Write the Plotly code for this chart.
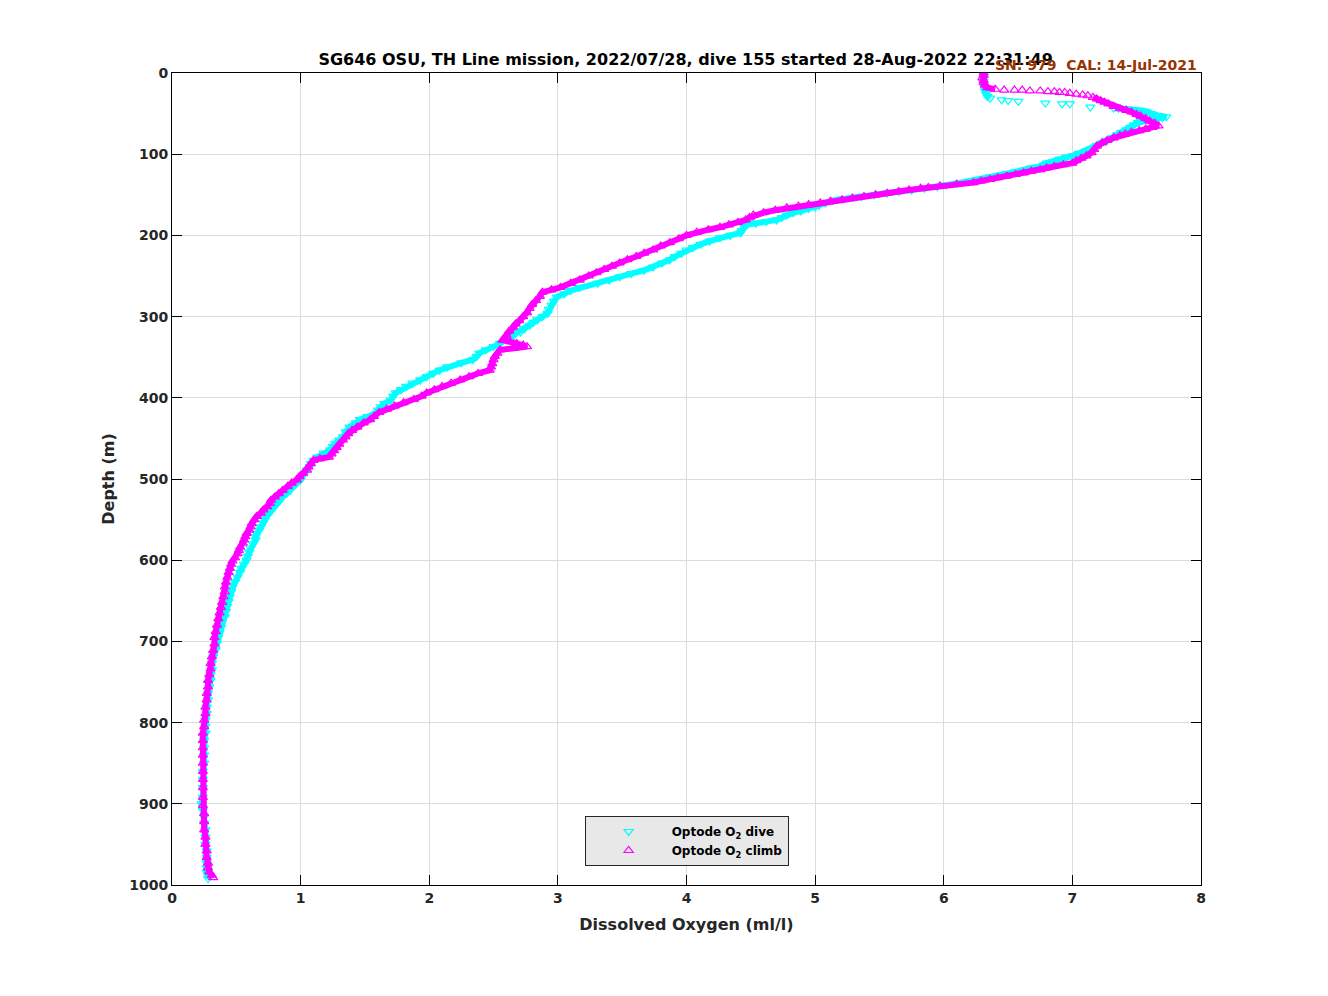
import plotly.graph_objects as go

# Dive (down-cast) optode O2, depth (m) and value (ml/l)
dive_depth = [2, 6, 10, 14, 18, 22, 26, 29, 31, 33, 34, 35, 37, 38, 38, 42, 43, 43.5, 44, 45, 46, 47, 48, 50, 52, 53, 54, 55, 56, 57, 59, 61, 64, 67, 70, 73, 76, 80, 83, 86, 89, 93, 96, 99, 102, 104, 106, 109, 111, 113, 115, 117, 120, 122, 124, 126, 128, 130, 133, 136, 138, 140, 142, 144, 146, 148, 150, 152, 153, 155, 157, 160, 163, 165, 167, 170, 172, 175, 178, 181, 183, 185, 187, 190, 194, 197, 200, 203, 207, 211, 215, 218, 222, 226, 230, 234, 239, 243, 247, 251, 255, 259, 264, 268, 272, 276, 281, 286, 291, 296, 300, 304, 307, 311, 315, 319, 323, 328, 333, 337, 341, 345, 349, 353, 357, 362, 366, 370, 374, 378, 382, 386, 390, 394, 398, 403, 407, 411, 415, 419, 423, 427, 431, 436, 442, 448, 452, 456, 460, 464, 468, 473, 477, 481, 485, 489, 493, 497, 501, 505, 509, 514, 518, 522, 526, 530, 534, 538, 542, 546, 550, 554, 559, 563, 567, 571, 575, 580, 585, 590, 595, 600, 605, 610, 615, 621, 627, 633, 639, 645, 651, 657, 663, 670, 676, 683, 689, 695, 702, 710, 719, 727, 735, 741, 748, 756, 764, 772, 781, 789, 797, 805, 813, 822, 831, 840, 850, 860, 870, 880, 892, 900, 908, 916, 924, 932, 941, 950, 958, 966, 973, 979, 984, 988, 992]
dive_o2 = [6.31, 6.31, 6.31, 6.31, 6.32, 6.32, 6.33, 6.34, 6.36, 6.45, 6.50, 6.58, 6.79, 6.92, 6.98, 7.14, 7.32, 7.36, 7.43, 7.48, 7.53, 7.56, 7.58, 7.61, 7.63, 7.68, 7.73, 7.70, 7.65, 7.60, 7.53, 7.51, 7.48, 7.45, 7.42, 7.38, 7.35, 7.31, 7.27, 7.23, 7.19, 7.15, 7.11, 7.05, 7.00, 6.95, 6.90, 6.85, 6.80, 6.78, 6.75, 6.68, 6.62, 6.55, 6.49, 6.43, 6.36, 6.30, 6.23, 6.10, 6.02, 5.95, 5.85, 5.75, 5.65, 5.56, 5.46, 5.36, 5.29, 5.21, 5.14, 5.08, 5.03, 5.00, 4.95, 4.89, 4.83, 4.78, 4.74, 4.70, 4.62, 4.54, 4.47, 4.45, 4.43, 4.42, 4.34, 4.26, 4.18, 4.11, 4.05, 4.00, 3.96, 3.91, 3.87, 3.81, 3.74, 3.67, 3.57, 3.48, 3.40, 3.31, 3.17, 3.10, 3.05, 2.99, 2.97, 2.95, 2.93, 2.92, 2.88, 2.84, 2.81, 2.78, 2.74, 2.71, 2.66, 2.61, 2.55, 2.50, 2.44, 2.39, 2.37, 2.34, 2.25, 2.14, 2.08, 2.03, 1.98, 1.93, 1.87, 1.82, 1.78, 1.74, 1.72, 1.70, 1.65, 1.62, 1.60, 1.59, 1.52, 1.46, 1.43, 1.38, 1.35, 1.33, 1.30, 1.27, 1.25, 1.23, 1.18, 1.13, 1.10, 1.08, 1.07, 1.05, 1.03, 1.01, 1.00, 0.97, 0.94, 0.92, 0.89, 0.86, 0.84, 0.82, 0.79, 0.77, 0.75, 0.73, 0.72, 0.71, 0.69, 0.68, 0.66, 0.65, 0.65, 0.63, 0.61, 0.60, 0.59, 0.58, 0.56, 0.54, 0.53, 0.51, 0.49, 0.47, 0.46, 0.45, 0.44, 0.43, 0.42, 0.41, 0.39, 0.38, 0.37, 0.36, 0.35, 0.34, 0.32, 0.31, 0.31, 0.30, 0.30, 0.29, 0.28, 0.28, 0.27, 0.27, 0.26, 0.26, 0.26, 0.25, 0.25, 0.25, 0.25, 0.24, 0.24, 0.24, 0.24, 0.23, 0.24, 0.25, 0.25, 0.26, 0.26, 0.26, 0.27, 0.27, 0.27, 0.27, 0.27, 0.28, 0.28]

# Climb (up-cast) optode O2
climb_depth = [0, 3, 6, 9, 12, 15, 18, 20, 21, 21, 21, 22, 22, 23, 23, 24, 24, 25, 26, 27, 28, 30, 32, 34, 36, 38, 41, 44, 46, 48, 51, 53, 56, 59, 62, 65, 67, 69, 71, 73, 75, 77, 80, 83, 86, 90, 94, 98, 102, 105, 108, 111, 113, 115, 117, 119, 121, 123, 125, 127, 129, 131, 133, 135, 137, 139, 141, 142, 144, 146, 148, 150, 152, 154, 156, 158, 160, 162, 164, 166, 169, 172, 175, 178, 181, 184, 187, 190, 193, 196, 200, 204, 209, 213, 218, 222, 226, 230, 234, 238, 242, 246, 250, 255, 259, 264, 267, 270, 275, 280, 285, 290, 295, 300, 305, 309, 313, 318, 323, 327, 329, 331, 333, 335, 337, 339, 341, 345, 349, 353, 358, 362, 366, 370, 374, 378, 382, 386, 390, 394, 398, 402, 406, 410, 414, 418, 423, 427, 431, 436, 440, 444, 448, 452, 457, 461, 465, 469, 473, 475, 477, 481, 485, 489, 493, 497, 501, 505, 509, 514, 518, 522, 526, 530, 534, 538, 542, 546, 550, 555, 559, 563, 567, 571, 575, 579, 584, 588, 592, 597, 601, 605, 610, 615, 621, 627, 633, 639, 645, 652, 658, 665, 672, 680, 688, 695, 703, 711, 719, 727, 734, 741, 748, 756, 764, 772, 781, 789, 797, 805, 813, 822, 831, 840, 850, 860, 870, 880, 892, 902, 912, 922, 932, 941, 950, 958, 966, 973, 979, 984, 988, 991]
climb_o2 = [6.31, 6.31, 6.30, 6.31, 6.31, 6.32, 6.34, 6.40, 6.47, 6.55, 6.61, 6.67, 6.75, 6.81, 6.86, 6.90, 6.94, 6.98, 7.03, 7.08, 7.12, 7.16, 7.19, 7.22, 7.25, 7.28, 7.32, 7.37, 7.42, 7.46, 7.50, 7.53, 7.57, 7.60, 7.64, 7.67, 7.62, 7.57, 7.52, 7.46, 7.41, 7.37, 7.32, 7.27, 7.23, 7.19, 7.17, 7.15, 7.11, 7.07, 7.03, 7.00, 6.93, 6.86, 6.80, 6.75, 6.68, 6.62, 6.56, 6.49, 6.42, 6.36, 6.29, 6.23, 6.10, 5.97, 5.88, 5.82, 5.73, 5.65, 5.56, 5.47, 5.38, 5.29, 5.21, 5.12, 5.04, 4.95, 4.87, 4.78, 4.69, 4.60, 4.52, 4.49, 4.46, 4.40, 4.33, 4.26, 4.17, 4.08, 4.00, 3.94, 3.87, 3.80, 3.74, 3.67, 3.61, 3.54, 3.48, 3.42, 3.36, 3.30, 3.24, 3.17, 3.10, 3.02, 2.95, 2.88, 2.86, 2.83, 2.80, 2.78, 2.76, 2.73, 2.70, 2.67, 2.65, 2.62, 2.60, 2.58, 2.57, 2.63, 2.68, 2.73, 2.76, 2.66, 2.55, 2.53, 2.51, 2.50, 2.49, 2.48, 2.47, 2.38, 2.31, 2.24, 2.17, 2.10, 2.04, 1.98, 1.94, 1.88, 1.80, 1.73, 1.67, 1.61, 1.57, 1.54, 1.49, 1.44, 1.40, 1.37, 1.35, 1.33, 1.30, 1.28, 1.26, 1.24, 1.22, 1.15, 1.10, 1.08, 1.06, 1.05, 1.02, 0.99, 0.97, 0.93, 0.90, 0.86, 0.83, 0.80, 0.77, 0.76, 0.74, 0.71, 0.69, 0.66, 0.64, 0.62, 0.61, 0.60, 0.58, 0.57, 0.56, 0.55, 0.53, 0.52, 0.51, 0.49, 0.47, 0.46, 0.45, 0.44, 0.43, 0.42, 0.41, 0.41, 0.40, 0.39, 0.38, 0.37, 0.36, 0.35, 0.34, 0.33, 0.33, 0.32, 0.31, 0.30, 0.30, 0.29, 0.28, 0.28, 0.27, 0.27, 0.26, 0.26, 0.25, 0.25, 0.24, 0.24, 0.24, 0.24, 0.24, 0.24, 0.24, 0.24, 0.24, 0.24, 0.25, 0.25, 0.25, 0.26, 0.26, 0.27, 0.27, 0.28, 0.28, 0.29, 0.31, 0.32]

x_ticks = [0, 1, 2, 3, 4, 5, 6, 7, 8]
y_ticks = [0, 100, 200, 300, 400, 500, 600, 700, 800, 900, 1000]

title_text = "SG646 OSU, TH Line mission, 2022/07/28, dive 155 started 28-Aug-2022 22:31:49"
cal_text = "SN: 979  CAL: 14-Jul-2021"

# depth ranges where samples are so dense that the markers merge into a band
dive_dense = [(0, 31), (43.5, 1000)]
climb_dense = [(0, 20), (30, 1000)]

FONT = "DejaVu Sans"
CYAN = "#00FFFF"
MAGENTA = "#FF00FF"


def band(depths, values, ranges):
    xs, ys = [], []
    for lo, hi in ranges:
        for d, v in zip(depths, values):
            if lo <= d <= hi:
                xs.append(v)
                ys.append(d)
        xs.append(None)
        ys.append(None)
    return xs, ys


dive_band = band(dive_depth, dive_o2, dive_dense)
climb_band = band(climb_depth, climb_o2, climb_dense)

fig = go.Figure()
fig.add_trace(go.Scatter(x=dive_band[0], y=dive_band[1], mode="lines", showlegend=False,
                         hoverinfo="skip", connectgaps=False,
                         line=dict(color=CYAN, width=6)))
fig.add_trace(go.Scatter(
    x=dive_o2, y=dive_depth, mode="markers",
    name="Optode O<sub>2</sub> dive",
    marker=dict(symbol="triangle-down-open", size=8, color=CYAN,
                line=dict(width=1.2, color=CYAN)),
))
fig.add_trace(go.Scatter(x=climb_band[0], y=climb_band[1], mode="lines", showlegend=False,
                         hoverinfo="skip", connectgaps=False,
                         line=dict(color=MAGENTA, width=6)))
fig.add_trace(go.Scatter(
    x=climb_o2, y=climb_depth, mode="markers",
    name="Optode O<sub>2</sub> climb",
    marker=dict(symbol="triangle-up-open", size=8, color=MAGENTA,
                line=dict(width=1.2, color=MAGENTA)),
))

axis_common = dict(
    showline=True, linecolor="black", linewidth=1, mirror="allticks",
    ticks="inside", ticklen=10, tickcolor="black", tickwidth=1,
    showgrid=True, gridcolor="#dcdcdc", gridwidth=1, zeroline=False,
    tickfont=dict(family=FONT, size=14, color="#262626", weight="bold"),
)

fig.update_xaxes(
    range=[0, 8], tickvals=x_ticks, ticktext=[str(v) for v in x_ticks],
    title=dict(text="Dissolved Oxygen (ml/l)", standoff=14,
               font=dict(family=FONT, size=16, color="#262626", weight="bold")),
    **axis_common,
)
fig.update_yaxes(
    range=[1000, 0], tickvals=y_ticks, ticktext=[str(v) for v in y_ticks],
    title=dict(text="Depth (m)", standoff=10,
               font=dict(family=FONT, size=16, color="#262626", weight="bold")),
    **axis_common,
)

fig.update_layout(
    width=1312, height=980,
    margin=dict(l=164, r=119, t=65, b=103),
    paper_bgcolor="white", plot_bgcolor="white",
    title=dict(text=title_text, x=0.5165, xanchor="center", y=0.948, yanchor="middle",
               font=dict(family=FONT, size=16, color="black", weight="bold")),
    showlegend=True,
    legend=dict(x=0.401, y=0.085, xanchor="left", yanchor="top",
                bgcolor="#e8e8e8", bordercolor="#262626", borderwidth=1,
                font=dict(family=FONT, size=12, color="black", weight="bold"),
                itemwidth=76),
    annotations=[dict(text=cal_text, xref="paper", yref="paper", x=0.998, y=1.0,
                      xanchor="right", yanchor="bottom", yshift=-2, showarrow=False,
                      font=dict(family=FONT, size=14, color="#993300", weight="bold"))],
)

fig.write_html("out.html")
